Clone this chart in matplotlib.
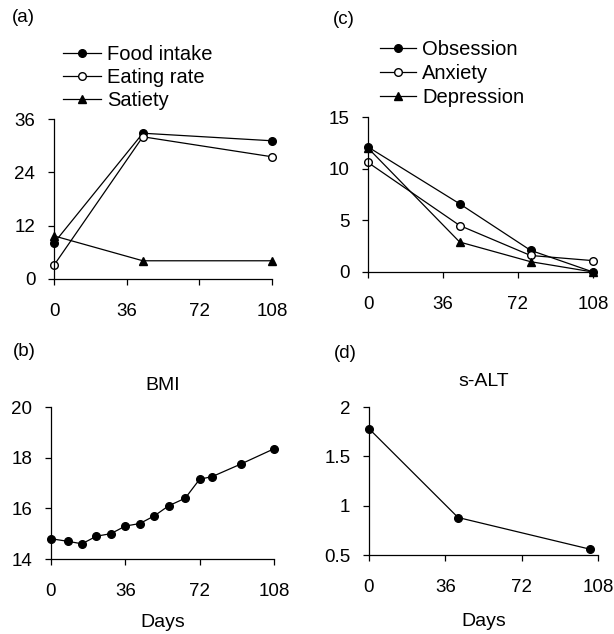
import matplotlib
matplotlib.use("Agg")
import matplotlib.pyplot as plt

plt.rcParams['font.family'] = ['Liberation Sans', 'DejaVu Sans']
plt.rcParams['font.size'] = 13.5

# Panel (a)
days_a = [0, 44, 108]
food_intake = [8.1, 32.8, 31.1]
eating_rate = [3.1, 32.0, 27.5]
satiety = [9.7, 4.1, 4.1]

# Panel (c)
days_c = [0, 44, 78, 108]
obsession = [12.1, 6.6, 2.1, 0.0]
anxiety = [10.6, 4.5, 1.6, 1.1]
depression = [12.0, 2.9, 1.0, 0.0]

# Panel (b)
days_b = [0, 8, 15, 22, 29, 36, 43, 50, 57, 65, 72, 78, 92, 108]
bmi = [14.8, 14.7, 14.6, 14.9, 15.0, 15.3, 15.4, 15.7, 16.1, 16.4, 17.15, 17.25, 17.75, 18.35]

# Panel (d)
days_d = [0, 42, 104]
s_alt = [1.78, 0.88, 0.56]

xticks = [0, 36, 72, 108]

fig = plt.figure(figsize=(6.14, 6.34), dpi=100)

def style(ax, ylim, yticks, yticklabels=None):
    ax.set_xlim(0, 108)
    ax.set_ylim(*ylim)
    ax.set_xticks(xticks)
    ax.set_yticks(yticks)
    if yticklabels is not None:
        ax.set_yticklabels(yticklabels)
    for s in ['top', 'right']:
        ax.spines[s].set_visible(False)
    for s in ['left', 'bottom']:
        ax.spines[s].set_linewidth(0.9)
    ax.tick_params(direction='out', length=4.5, width=0.9, labelsize=13.5)
    ax.tick_params(axis='x', pad=13)
    ax.tick_params(axis='y', pad=9)

lw = 0.9
ms = 5.5

ax_a = fig.add_axes([54/614, 1-279/634, 218/614, 160/634])
ax_a.plot(days_a, food_intake, '-o', color='black', lw=lw, ms=ms, mfc='black', mec='black', label='Food intake', clip_on=False)
ax_a.plot(days_a, eating_rate, '-o', color='black', lw=lw, ms=ms, mfc='white', mec='black', label='Eating rate', clip_on=False)
ax_a.plot(days_a, satiety, '-^', color='black', lw=lw, ms=ms+0.5, mfc='black', mec='black', label='Satiety', clip_on=False)
style(ax_a, (0, 36), [0, 12, 24, 36])
ax_a.legend(loc='upper left', bbox_to_anchor=(63/614, 1-45/634), bbox_transform=fig.transFigure,
            frameon=False, borderpad=0, borderaxespad=0, handlelength=1.9, handletextpad=0.3,
            labelspacing=0.2, fontsize=14.5)

ax_c = fig.add_axes([368/614, 1-272/634, 225/614, 155/634])
ax_c.plot(days_c, obsession, '-o', color='black', lw=lw, ms=ms, mfc='black', mec='black', label='Obsession', clip_on=False)
ax_c.plot(days_c, anxiety, '-o', color='black', lw=lw, ms=ms, mfc='white', mec='black', label='Anxiety', clip_on=False)
ax_c.plot(days_c, depression, '-^', color='black', lw=lw, ms=ms+0.5, mfc='black', mec='black', label='Depression', clip_on=False)
style(ax_c, (0, 15), [0, 5, 10, 15])
ax_c.legend(loc='upper left', bbox_to_anchor=(380/614, 1-40/634), bbox_transform=fig.transFigure,
            frameon=False, borderpad=0, borderaxespad=0, handlelength=1.8, handletextpad=0.3,
            labelspacing=0.25, fontsize=14.5)

ax_b = fig.add_axes([51/614, 1-559/634, 223/614, 152/634])
ax_b.plot(days_b, bmi, '-o', color='black', lw=lw, ms=ms, mfc='black', mec='black', clip_on=False)
style(ax_b, (14, 20), [14, 16, 18, 20])
ax_b.set_title('BMI', fontsize=14, pad=12)
ax_b.set_xlabel('Days', fontsize=14, labelpad=10)

ax_d = fig.add_axes([369/614, 1-555/634, 229/614, 148/634])
ax_d.plot(days_d, s_alt, '-o', color='black', lw=lw, ms=ms, mfc='black', mec='black', clip_on=False)
style(ax_d, (0.5, 2), [0.5, 1, 1.5, 2], ['0.5', '1', '1.5', '2'])
ax_d.set_title('s-ALT', fontsize=14, pad=15)
ax_d.set_xlabel('Days', fontsize=14, labelpad=12)

fig.text(12/614, 1-18/634, '(a)', fontsize=13.5, va='center', ha='left')
fig.text(333/614, 1-19/634, '(c)', fontsize=13.5, va='center', ha='left')
fig.text(13/614, 1-352/634, '(b)', fontsize=13.5, va='center', ha='left')
fig.text(334/614, 1-353/634, '(d)', fontsize=13.5, va='center', ha='left')

fig.savefig('out.png', dpi=100)
